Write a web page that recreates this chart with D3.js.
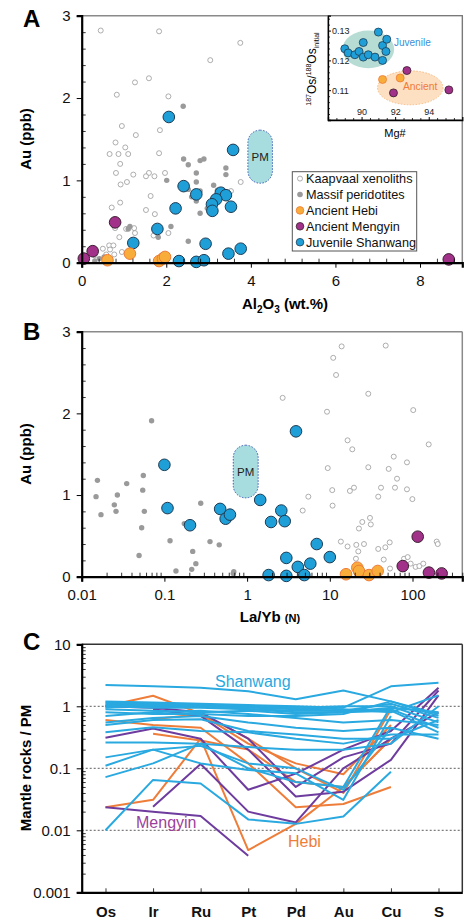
<!DOCTYPE html>
<html><head><meta charset="utf-8">
<script src="https://cdn.jsdelivr.net/npm/d3@7"></script>
<style>
body{margin:0;background:#fff}
svg{font-family:Arial,"Liberation Sans",sans-serif}
</style></head><body>
<svg id="chart" width="471" height="919"></svg>
<script>
// ---- panel A : Au vs Al2O3 ----
const kaapvaalA = [[0.45,2.82],[1.83,2.81],[3.04,2.46],[3.75,2.67],[1.59,2.24],[1.26,2.19],[0.83,2.04],[2.05,2.02],[0.95,1.66],[1.28,1.55],[1.85,1.61],[0.80,1.46],[1.03,1.40],[0.66,1.32],[0.87,1.32],[1.10,1.32],[1.83,1.33],[0.91,1.20],[0.81,1.09],[1.22,1.07],[1.59,1.09],[1.52,1.05],[1.72,1.05],[1.97,1.09],[1.07,0.98],[0.92,0.95],[1.63,0.81],[0.91,0.73],[0.71,0.67],[1.52,0.64],[1.73,0.59],[0.79,0.42],[1.05,0.41],[1.24,0.42],[1.26,0.36],[1.70,0.33],[2.05,0.36],[0.89,0.31],[0.65,0.21],[0.75,0.21],[0.50,0.17],[0.67,0.16],[0.95,0.13],[0.77,0.10],[0.58,0.10],[0.31,0.09],[3.76,0.98],[3.53,0.87],[3.01,0.67]];
const massifA = [[2.40,1.90],[2.41,1.26],[2.52,1.19],[2.80,1.24],[2.89,1.26],[3.41,1.15],[3.41,1.07],[2.71,1.09],[2.01,1.00],[2.71,0.98],[2.52,0.89],[2.80,0.87],[2.71,0.82],[2.60,0.80],[2.71,0.75],[3.21,0.88],[2.97,0.66],[2.80,0.60],[2.11,0.44],[2.52,0.26],[1.81,0.31],[1.10,0.41],[1.14,0.44],[0.42,0.05],[0.31,0.02],[0.53,0.07],[3.12,0.94]];
const hebiA = [[0.61,0.03],[1.14,0.11],[1.83,0.02],[1.92,0.05],[1.97,0.07]];
const mengyinA = [[0.05,0.05],[0.26,0.14],[0.79,0.49],[8.68,0.04]];
const shanwangA = [[3.58,1.37],[2.06,1.77],[2.41,0.93],[2.71,0.83],[3.29,0.85],[3.41,0.82],[3.18,0.77],[3.08,0.71],[3.09,0.63],[3.53,0.68],[2.22,0.66],[1.79,0.41],[1.22,0.24],[2.93,0.23],[3.76,0.17],[3.47,0.11],[2.30,0.02],[2.71,0.01],[2.89,0.03]];

// inset : 187Os/188Os initial vs Mg#
const shanwangOs = [[89.0,0.1239],[89.2,0.1225],[89.6,0.1219],[89.85,0.1230],[90.1,0.1260],[90.1,0.1211],[90.4,0.1219],[90.8,0.1211],[91.0,0.1295],[91.25,0.1250],[91.5,0.1271],[91.45,0.1230],[91.25,0.1200]];
const hebiOs = [[91.25,0.1136],[92.3,0.1141]];
const mengyinOs = [[92.7,0.1166],[91.9,0.1091],[95.2,0.1101]];

// ---- panel B : Au vs La/Yb(N) ----
const kaapvaalB = [[13.9,2.82],[47.4,2.83],[11.0,2.68],[11.9,2.47],[2.69,2.19],[29.2,2.24],[9.25,2.02],[102,2.04],[16.4,1.67],[157,1.62],[18.7,1.56],[59.3,1.47],[85.7,1.40],[9.44,1.33],[29.2,1.34],[51.5,1.32],[65,1.20],[61.4,1.09],[41.6,1.09],[85.7,1.07],[99.6,0.95],[38.5,0.98],[19.6,1.09],[17.5,1.05],[10.7,1.06],[5.5,0.98],[4.7,0.81],[10.8,0.87],[24.7,0.67],[30.6,0.72],[31.3,0.64],[22.5,0.59],[13.6,0.43],[16.4,0.37],[20.9,0.39],[25.9,0.40],[22.1,0.31],[38.5,0.34],[46.9,0.36],[53,0.42],[20.7,0.22],[44.9,0.21],[53.5,0.10],[78.9,0.22],[87.5,0.24],[95,0.16],[109,0.12],[121,0.13],[135,0.16],[196,0.43],[202,0.40]];
const massifB = [[0.070,1.91],[0.0155,1.18],[0.0149,0.98],[0.0171,0.76],[0.035,1.14],[0.0556,1.24],[0.0547,1.06],[0.027,1.00],[0.0248,0.88],[0.026,0.80],[0.0572,0.80],[0.0531,0.60],[0.0494,0.26],[0.275,0.90],[0.174,0.65],[0.117,0.44],[0.356,0.43],[0.46,0.39],[0.22,0.31],[0.24,0.16],[0.214,0.09],[0.138,0.07],[0.68,0.04],[0.69,0.06]];
const hebiB = [[15.7,0.03],[21.5,0.11],[22.5,0.07],[29.8,0.02],[37.9,0.07]];
const mengyinB = [[115.6,0.49],[76.2,0.13],[158,0.05],[225,0.04]];
const shanwangB = [[0.10,1.37],[0.109,0.84],[0.204,0.63],[0.472,0.83],[0.55,0.71],[0.62,0.76],[1.44,0.94],[1.95,0.67],[2.59,0.81],[2.85,0.68],[2.98,0.23],[1.82,0.02],[2.98,0.01],[4.1,0.12],[3.9,1.78],[6.95,0.40],[10,0.24],[5.81,0.16],[4.92,0.02]];

// primitive mantle box (Au range) shared by A and B
const pmAl = [3.93,4.51], pmLaYb = [0.68,1.36], pmAu = [0.965,1.61];

// ---- panel C : PM-normalised patterns ----
const elements = ["Os","Ir","Ru","Pt","Pd","Au","Cu","S"];
const shanwangC = [
  [2.2,2.1,2.0,1.75,1.3,1.8,1.2,0.75],
  [1.2,1.15,1.1,1.05,1.0,0.95,2.1,2.4],
  [1.15,1.1,1.05,1.0,0.95,0.9,0.8,1.5],
  [1.1,1.05,1.05,1.0,0.95,1.0,1.0,0.55],
  [1.05,1.0,1.0,0.95,0.9,0.85,0.9,0.45],
  [1.0,0.95,0.95,0.9,0.85,0.85,1.1,0.65],
  [0.95,1.1,1.0,0.9,0.8,0.8,0.95,0.8],
  [0.9,0.85,0.8,0.85,0.75,0.8,0.85,0.38],
  [0.8,0.75,0.75,0.7,0.7,0.75,1.2,0.7],
  [0.7,0.8,0.85,0.75,0.65,0.55,0.6,0.5],
  [0.55,0.65,0.7,0.55,0.45,0.4,0.45,0.3],
  [0.5,0.6,0.62,0.4,0.35,0.3,0.3,0.6],
  [0.38,0.46,0.4,0.38,0.3,0.25,0.35,0.35],
  [0.26,0.26,0.25,0.22,0.2,0.2,0.25,1.0],
  [0.15,0.2,0.23,0.12,0.1,0.045,0.45,null],
  [0.11,0.2,0.12,0.094,0.083,0.031,0.7,null],
  [0.072,0.12,0.25,0.1,0.06,0.05,1.0,null],
  [0.01,0.065,0.057,0.015,0.0127,0.0167,0.088,null]
];
const hebiC = [
  [1.0,1.48,0.77,0.3,0.1,0.04,0.9,null],
  [null,0.62,0.75,0.25,0.12,0.08,0.5,null],
  [null,0.36,0.28,0.2,0.06,0.05,0.3,null],
  [0.0236,0.031,0.3,0.0048,0.0127,0.05,0.3,null],
  [0.6,0.5,0.45,0.12,0.0236,0.0265,0.05,null]
];
const mengyinC = [
  [0.31,0.44,0.3,0.045,0.082,0.2,0.4,2.0],
  [null,0.9,0.7,0.2,0.035,0.042,0.137,1.5],
  [0.0236,0.02,0.017,0.0039,null,null,null,null],
  [null,0.024,0.117,0.02,0.0134,0.1,0.3,0.8],
  [1.0,0.95,0.8,0.3,0.05,0.15,0.25,1.8]
];

const svg = d3.select("#chart");
svg.append("rect").attr("width",471).attr("height",919).attr("fill","#fff");

const L = 81.7, R = 462.3;
const cBlue = "#1f9fd8", cHebiFill = "#f8ad3b", cHebiStroke = "#f07a36", cMeng = "#a2318a";

function frame(y0, y1, topColor) {
  svg.append("line").attr("x1",L).attr("x2",R).attr("y1",y0).attr("y2",y0).attr("stroke",topColor).attr("stroke-width",1.5);
  svg.append("line").attr("x1",R).attr("x2",R).attr("y1",y0).attr("y2",y1).attr("stroke",topColor).attr("stroke-width",1.5);
}

function styleAxis(g) {
  g.select(".domain").attr("stroke","#000").attr("stroke-width",2.2);
  g.selectAll(".tick line").attr("stroke","#000").attr("stroke-width",1);
  g.selectAll(".tick text").attr("font-size",15).attr("fill","#111").attr("font-family","Arial, Liberation Sans, sans-serif");
}

function minorAxis(axis, at, vals, size) {
  const g = svg.append("g").attr("transform",at).call(axis.tickValues(vals).tickSize(size).tickFormat(""));
  g.select(".domain").remove();
  g.selectAll(".tick line").attr("stroke","#000").attr("stroke-width",0.8);
}

function panelLabel(t, y) {
  svg.append("text").attr("x",23).attr("y",y).attr("font-size",24).attr("font-weight","bold").text(t);
}

function yTitle(t, cy) {
  svg.append("text").attr("transform",`translate(31,${cy}) rotate(-90)`).attr("text-anchor","middle")
    .attr("font-size",15).attr("font-weight","bold").text(t);
}

function pmBox(x, y, lo, hi) {
  const x0 = x(lo[0]), x1 = x(lo[1]), y0 = y(hi[1]), y1 = y(hi[0]);
  const w = x1 - x0;
  svg.append("rect").attr("x",x0).attr("y",y0).attr("width",w).attr("height",y1-y0)
    .attr("rx",w/2).attr("ry",w/2).attr("fill","#a8dde0").attr("stroke","#3f5fb5")
    .attr("stroke-width",1).attr("stroke-dasharray","1.5,1.5");
  svg.append("text").attr("x",(x0+x1)/2).attr("y",(y0+y1)/2+4).attr("text-anchor","middle")
    .attr("font-size",11.5).attr("fill","#222").text("PM");
}

function scatter(data, x, y, r, fill, stroke, sw) {
  svg.append("g").selectAll("circle").data(data).join("circle")
    .attr("cx",d=>x(d[0])).attr("cy",d=>y(d[1])).attr("r",r)
    .attr("fill",fill).attr("stroke",stroke).attr("stroke-width",sw);
}

function drawGroups(k, m, h, mg, s, x, y) {
  scatter(k, x, y, 2.5, "#fff", "#999", 0.8);
  scatter(m, x, y, 2.7, "#9a9a9a", "none", 0);
  scatter(s, x, y, 5.8, cBlue, "#1d3c55", 1);
  scatter(h, x, y, 5.8, cHebiFill, cHebiStroke, 1);
  scatter(mg, x, y, 5.8, cMeng, "#3a2030", 1);
}

// ================= Panel A =================
const xA = d3.scaleLinear().domain([0,9]).range([L,R]);
const yA = d3.scaleLinear().domain([0,3]).range([262.7,15.7]);
frame(yA(3), yA(0), "#8a8a8a");
pmBox(xA, yA, pmAl, pmAu);
drawGroups(kaapvaalA, massifA, hebiA, mengyinA, shanwangA, xA, yA);

minorAxis(d3.axisBottom(xA), `translate(0,${yA(0)})`, d3.range(0.4,9,0.4).filter(v=>Math.abs(v/2-Math.round(v/2))>0.01), -4);
minorAxis(d3.axisLeft(yA), `translate(${L},0)`, d3.range(0.2,3,0.2).filter(v=>Math.abs(v-Math.round(v))>0.01), -4);
styleAxis(svg.append("g").attr("transform",`translate(0,${yA(0)})`).call(d3.axisBottom(xA).tickValues([0,2,4,6,8]).tickFormat(d3.format("d")).tickSize(5).tickPadding(8)));
styleAxis(svg.append("g").attr("transform",`translate(${L},0)`).call(d3.axisLeft(yA).tickValues([0,1,2,3]).tickFormat(d3.format("d")).tickSize(5).tickPadding(6)));

// legend
const legendItems = [
  {name:"Kaapvaal xenoliths", r:2.5, fill:"#fff", stroke:"#999"},
  {name:"Massif peridotites", r:2.8, fill:"#9a9a9a", stroke:"none"},
  {name:"Ancient Hebi", r:3.8, fill:cHebiFill, stroke:cHebiStroke},
  {name:"Ancient Mengyin", r:3.8, fill:cMeng, stroke:"#3a2030"},
  {name:"Juvenile Shanwang", r:3.8, fill:cBlue, stroke:"#1d3c55"}
];
svg.append("rect").attr("x",292.3).attr("y",171.7).attr("width",124.4).attr("height",79.3)
  .attr("fill","#fff").attr("stroke","#555").attr("stroke-width",1);
const lg = svg.append("g").selectAll("g").data(legendItems).join("g")
  .attr("transform",(d,i)=>`translate(300,${178.6+i*15.9})`);
lg.append("circle").attr("r",d=>d.r).attr("fill",d=>d.fill).attr("stroke",d=>d.stroke).attr("stroke-width",0.8);
lg.append("text").attr("x",6).attr("y",4.5).attr("font-size",12.7).attr("fill","#111").text(d=>d.name);

// x title A
const tA = svg.append("text").attr("x",285).attr("y",309).attr("text-anchor","middle").attr("font-size",15).attr("font-weight","bold");
tA.append("tspan").text("Al");
tA.append("tspan").attr("font-size",10).attr("dy",4).text("2");
tA.append("tspan").attr("dy",-4).text("O");
tA.append("tspan").attr("font-size",10).attr("dy",4).text("3");
tA.append("tspan").attr("dy",-4).text(" (wt.%)");
yTitle("Au (ppb)", 139);
panelLabel("A", 27);

// ---- inset ----
const ix0 = 328, iy1 = 120;
const xI = d3.scaleLinear().domain([88,96]).range([ix0,R]);
const yI = d3.scaleLinear().domain([0.1,0.135]).range([iy1,yA(3)]);
svg.append("rect").attr("x",ix0).attr("y",yA(3)).attr("width",R-ix0).attr("height",iy1-yA(3))
  .attr("fill","#fff").attr("stroke","#777").attr("stroke-width",1.3);
svg.append("ellipse").attr("cx",xI(90.4)).attr("cy",yI(0.1237)).attr("rx",xI(91.94)-xI(90.4)).attr("ry",yI(0.1237)-yI(0.13))
  .attr("fill","#a9d6cc").attr("opacity",0.85);
svg.append("ellipse").attr("cx",xI(92.9)).attr("cy",yI(0.1108)).attr("rx",xI(94.85)-xI(92.9)).attr("ry",yI(0.1108)-yI(0.1165))
  .attr("fill","#fde0c2").attr("stroke","#f5b070").attr("stroke-width",0.8).attr("stroke-dasharray","1.5,1.5");
svg.append("g").selectAll("circle").data(shanwangOs).join("circle")
  .attr("cx",d=>xI(d[0])).attr("cy",d=>yI(d[1])).attr("r",4).attr("fill",cBlue).attr("stroke","#1d3c55").attr("stroke-width",0.8);
svg.append("g").selectAll("circle").data(hebiOs).join("circle")
  .attr("cx",d=>xI(d[0])).attr("cy",d=>yI(d[1])).attr("r",4).attr("fill",cHebiFill).attr("stroke",cHebiStroke).attr("stroke-width",0.8);
svg.append("g").selectAll("circle").data(mengyinOs).join("circle")
  .attr("cx",d=>xI(d[0])).attr("cy",d=>yI(d[1])).attr("r",4).attr("fill",cMeng).attr("stroke","#3a2030").attr("stroke-width",0.8);
svg.append("text").attr("x",394).attr("y",46).attr("font-size",10).attr("fill","#3a8fd8").text("Juvenile");
svg.append("text").attr("x",403).attr("y",90).attr("font-size",10.3).attr("fill","#f07a36").text("Ancient");

const giy = svg.append("g").attr("transform",`translate(${ix0},0)`)
  .call(d3.axisRight(yI).tickValues([0.11,0.12,0.13]).tickSize(3).tickPadding(1).tickFormat(d3.format(".2f")));
giy.select(".domain").attr("stroke","#000").attr("stroke-width",1.3);
giy.selectAll(".tick line").attr("stroke","#000");
giy.selectAll(".tick text").attr("font-size",9).attr("fill","#222");
minorAxis(d3.axisRight(yI), `translate(${ix0},0)`, d3.range(0.102,0.135,0.002).filter(v=>Math.abs(v*100-Math.round(v*100))>0.01), 2);
const gix = svg.append("g").attr("transform",`translate(0,${iy1})`)
  .call(d3.axisTop(xI).tickValues([90,92,94]).tickSize(3).tickPadding(2));
gix.select(".domain").attr("stroke","#000").attr("stroke-width",1.3);
gix.selectAll(".tick line").attr("stroke","#000");
gix.selectAll(".tick text").attr("font-size",9).attr("fill","#222");
minorAxis(d3.axisTop(xI), `translate(0,${iy1})`, d3.range(88.5,96,0.5).filter(v=>v%2!==0), 2);
svg.append("text").attr("x",395).attr("y",137).attr("text-anchor","middle").attr("font-size",11).text("Mg#");
const tI = svg.append("text").attr("transform","translate(316,69) rotate(-90)").attr("text-anchor","middle").attr("font-size",12);
tI.append("tspan").attr("font-size",7).attr("dy",-5).text("187");
tI.append("tspan").attr("dy",5).text("Os/");
tI.append("tspan").attr("font-size",7).attr("dy",-5).text("188");
tI.append("tspan").attr("dy",5).text("Os");
tI.append("tspan").attr("font-size",7).attr("dy",3).text("initial");

// ================= Panel B =================
const xB = d3.scaleLog().domain([0.01,400]).range([L,R]);
const yB = d3.scaleLinear().domain([0,3]).range([576.7,331.7]);
frame(yB(3), yB(0), "#8a8a8a");
pmBox(xB, yB, pmLaYb, pmAu);
drawGroups(kaapvaalB, massifB, hebiB, mengyinB, shanwangB, xB, yB);
const minorLog = [];
[0.01,0.1,1,10,100].forEach(p=>{ for(let k=2;k<=9;k++){ if(p*k<=400) minorLog.push(p*k); } });
minorAxis(d3.axisBottom(xB), `translate(0,${yB(0)})`, minorLog, -4);
minorAxis(d3.axisLeft(yB), `translate(${L},0)`, d3.range(0.2,3,0.2).filter(v=>Math.abs(v-Math.round(v))>0.01), -4);
styleAxis(svg.append("g").attr("transform",`translate(0,${yB(0)})`).call(d3.axisBottom(xB).tickValues([0.01,0.1,1,10,100]).tickFormat(d=>String(d)).tickSize(5).tickPadding(8)));
styleAxis(svg.append("g").attr("transform",`translate(${L},0)`).call(d3.axisLeft(yB).tickValues([0,1,2,3]).tickFormat(d3.format("d")).tickSize(5).tickPadding(6)));
const tB = svg.append("text").attr("x",270).attr("y",622).attr("text-anchor","middle").attr("font-weight","bold").attr("font-size",15);
tB.append("tspan").text("La/Yb ");
tB.append("tspan").attr("font-size",11).text("(N)");
yTitle("Au (ppb)", 454);
panelLabel("B", 340);

// ================= Panel C =================
const xC = d3.scalePoint().domain(elements).range([L,R]).padding(0.5);
const yC = d3.scaleLog().domain([0.001,10]).range([892.3,644.3]);
[1,0.1,0.01].forEach(v=>{
  svg.append("line").attr("x1",L).attr("x2",R).attr("y1",yC(v)).attr("y2",yC(v))
    .attr("stroke","#333").attr("stroke-width",0.8).attr("stroke-dasharray","2,2");
});
frame(yC(10), yC(0.001), "#333");
const line = d3.line().defined(d=>d!=null).x((d,i)=>xC(elements[i])).y(d=>yC(d));
function patterns(rows, color) {
  svg.append("g").selectAll("path").data(rows).join("path")
    .attr("d",d=>line(d)).attr("fill","none").attr("stroke",color).attr("stroke-width",2).attr("stroke-linejoin","round");
}
patterns(hebiC, "#ee7d3a");
patterns(mengyinC, "#6e3c9e");
patterns(shanwangC, "#29a9e0");

const minorC = [];
[0.001,0.01,0.1,1].forEach(p=>{ for(let k=2;k<=9;k++) minorC.push(p*k); });
minorAxis(d3.axisLeft(yC), `translate(${L},0)`, minorC, -4);
minorAxis(d3.axisBottom(xC), `translate(0,${yC(0.001)})`, elements, -4);
const gcy = svg.append("g").attr("transform",`translate(${L},0)`)
  .call(d3.axisLeft(yC).tickValues([0.001,0.01,0.1,1,10]).tickFormat(d=>String(d)).tickSize(5).tickPadding(6));
styleAxis(gcy);
const gcx = svg.append("g").attr("transform",`translate(0,${yC(0.001)})`)
  .call(d3.axisBottom(xC).tickSize(0).tickPadding(14));
styleAxis(gcx);
gcx.selectAll(".tick text").attr("font-weight","bold");
svg.append("text").attr("x",215).attr("y",687).attr("font-size",16).attr("fill","#29a9e0").text("Shanwang");
svg.append("text").attr("x",136).attr("y",828).attr("font-size",16).attr("fill","#9b3f9c").text("Mengyin");
svg.append("text").attr("x",288).attr("y",847).attr("font-size",16).attr("fill","#ee7d3a").text("Hebi");
yTitle("Mantle rocks / PM", 768);
panelLabel("C", 650);
</script></body></html>
